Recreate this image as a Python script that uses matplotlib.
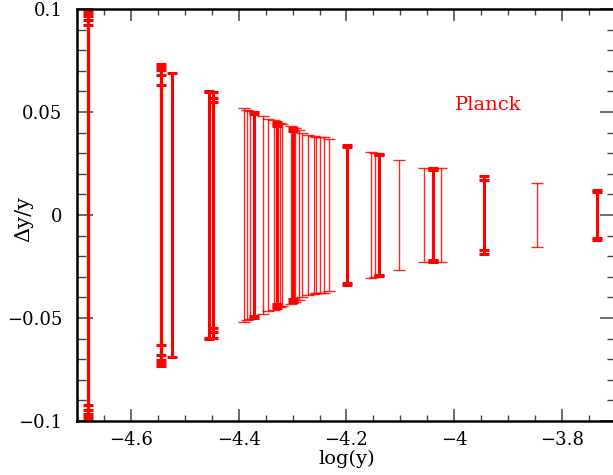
import matplotlib
matplotlib.use('Agg')
import matplotlib.pyplot as plt
from matplotlib.ticker import MultipleLocator

# heavy (stacked) error bars: position in log(y) and half widths
heavy_x = [-4.68, -4.68, -4.68, -4.68, -4.68,
           -4.545, -4.545, -4.545, -4.545, -4.545,
           -4.524,
           -4.456, -4.456,
           -4.448, -4.448, -4.448,
           -4.371, -4.371,
           -4.329, -4.329, -4.329,
           -4.300, -4.300,
           -4.200, -4.200,
           -4.139, -4.139,
           -4.040, -4.040, -4.040,
           -3.944, -3.944,
           -3.736, -3.736]
heavy_h = [0.0995, 0.098, 0.0965, 0.0945, 0.092,
           0.0735, 0.072, 0.0705, 0.068, 0.063,
           0.069,
           0.060, 0.0595,
           0.0595, 0.057, 0.055,
           0.050, 0.049,
           0.045, 0.044, 0.043,
           0.042, 0.041,
           0.034, 0.033,
           0.0295, 0.029,
           0.023, 0.0225, 0.022,
           0.019, 0.017,
           0.012, 0.011]

# thin single error bars
light_x = [-4.390, -4.385, -4.379, -4.355, -4.345, -4.335, -4.324, -4.320,
           -4.303, -4.295, -4.289, -4.283, -4.272, -4.261, -4.256, -4.249,
           -4.241, -4.232, -4.155, -4.148, -4.103, -4.056, -4.025, -3.846]
light_h = [0.052, 0.051, 0.0505, 0.048, 0.0465, 0.046, 0.0445, 0.044,
           0.043, 0.042, 0.0415, 0.040, 0.039, 0.0385, 0.038, 0.038,
           0.0378, 0.037, 0.0305, 0.030, 0.0265, 0.023, 0.023, 0.0155]

red = "#ff0000"
font = ["DejaVu Serif"]

fig = plt.figure(figsize=(6.13, 4.75), dpi=100)
ax = fig.add_axes([77 / 613, 54 / 475, 539 / 613, 412 / 475])

ax.errorbar(light_x, [0] * len(light_x), yerr=light_h, fmt="none",
            ecolor=red, elinewidth=1.0, capsize=4.5, capthick=1.0, alpha=0.85)
ax.errorbar(heavy_x, [0] * len(heavy_x), yerr=heavy_h, fmt="none",
            ecolor=red, elinewidth=2.2, capsize=3.5, capthick=2.2)

ax.set_xlim(-4.7, -3.7)
ax.set_ylim(-0.1, 0.1)

ax.xaxis.set_major_locator(MultipleLocator(0.2))
ax.xaxis.set_minor_locator(MultipleLocator(0.05))
ax.yaxis.set_major_locator(MultipleLocator(0.05))
ax.yaxis.set_minor_locator(MultipleLocator(0.01))

ax.tick_params(axis="x", which="major", direction="in", top=True, bottom=True,
               length=8.6, width=1.1, color="#444444", pad=7)
ax.tick_params(axis="x", which="minor", direction="in", top=True, bottom=True,
               length=4.3, width=1.0, color="#444444")
ax.tick_params(axis="y", which="major", direction="in", left=True, right=True,
               length=11.5, width=1.1, color="#444444", pad=10.5)
ax.tick_params(axis="y", which="minor", direction="in", left=True, right=True,
               length=6.5, width=1.0, color="#444444")

ax.set_xticklabels([f"{v:g}".replace("-", "\u2212") for v in ax.get_xticks()],
                   fontsize=13, family=font)
ax.set_yticklabels([f"{v:g}".replace("-", "\u2212") for v in ax.get_yticks()],
                   fontsize=13, family=font)

for s in ax.spines.values():
    s.set_linewidth(1.8)

ax.set_xlabel("log(y)", fontsize=14, family=font, labelpad=1)
ax.set_ylabel("\u0394y/y", fontsize=15, family=font)
ax.yaxis.set_label_coords(-0.082, 0.49)

ax.text(-3.998, 0.0534, "Planck", color=red, fontsize=14, family=font,
        ha="left", va="center")

fig.savefig("out.png", dpi=100)
